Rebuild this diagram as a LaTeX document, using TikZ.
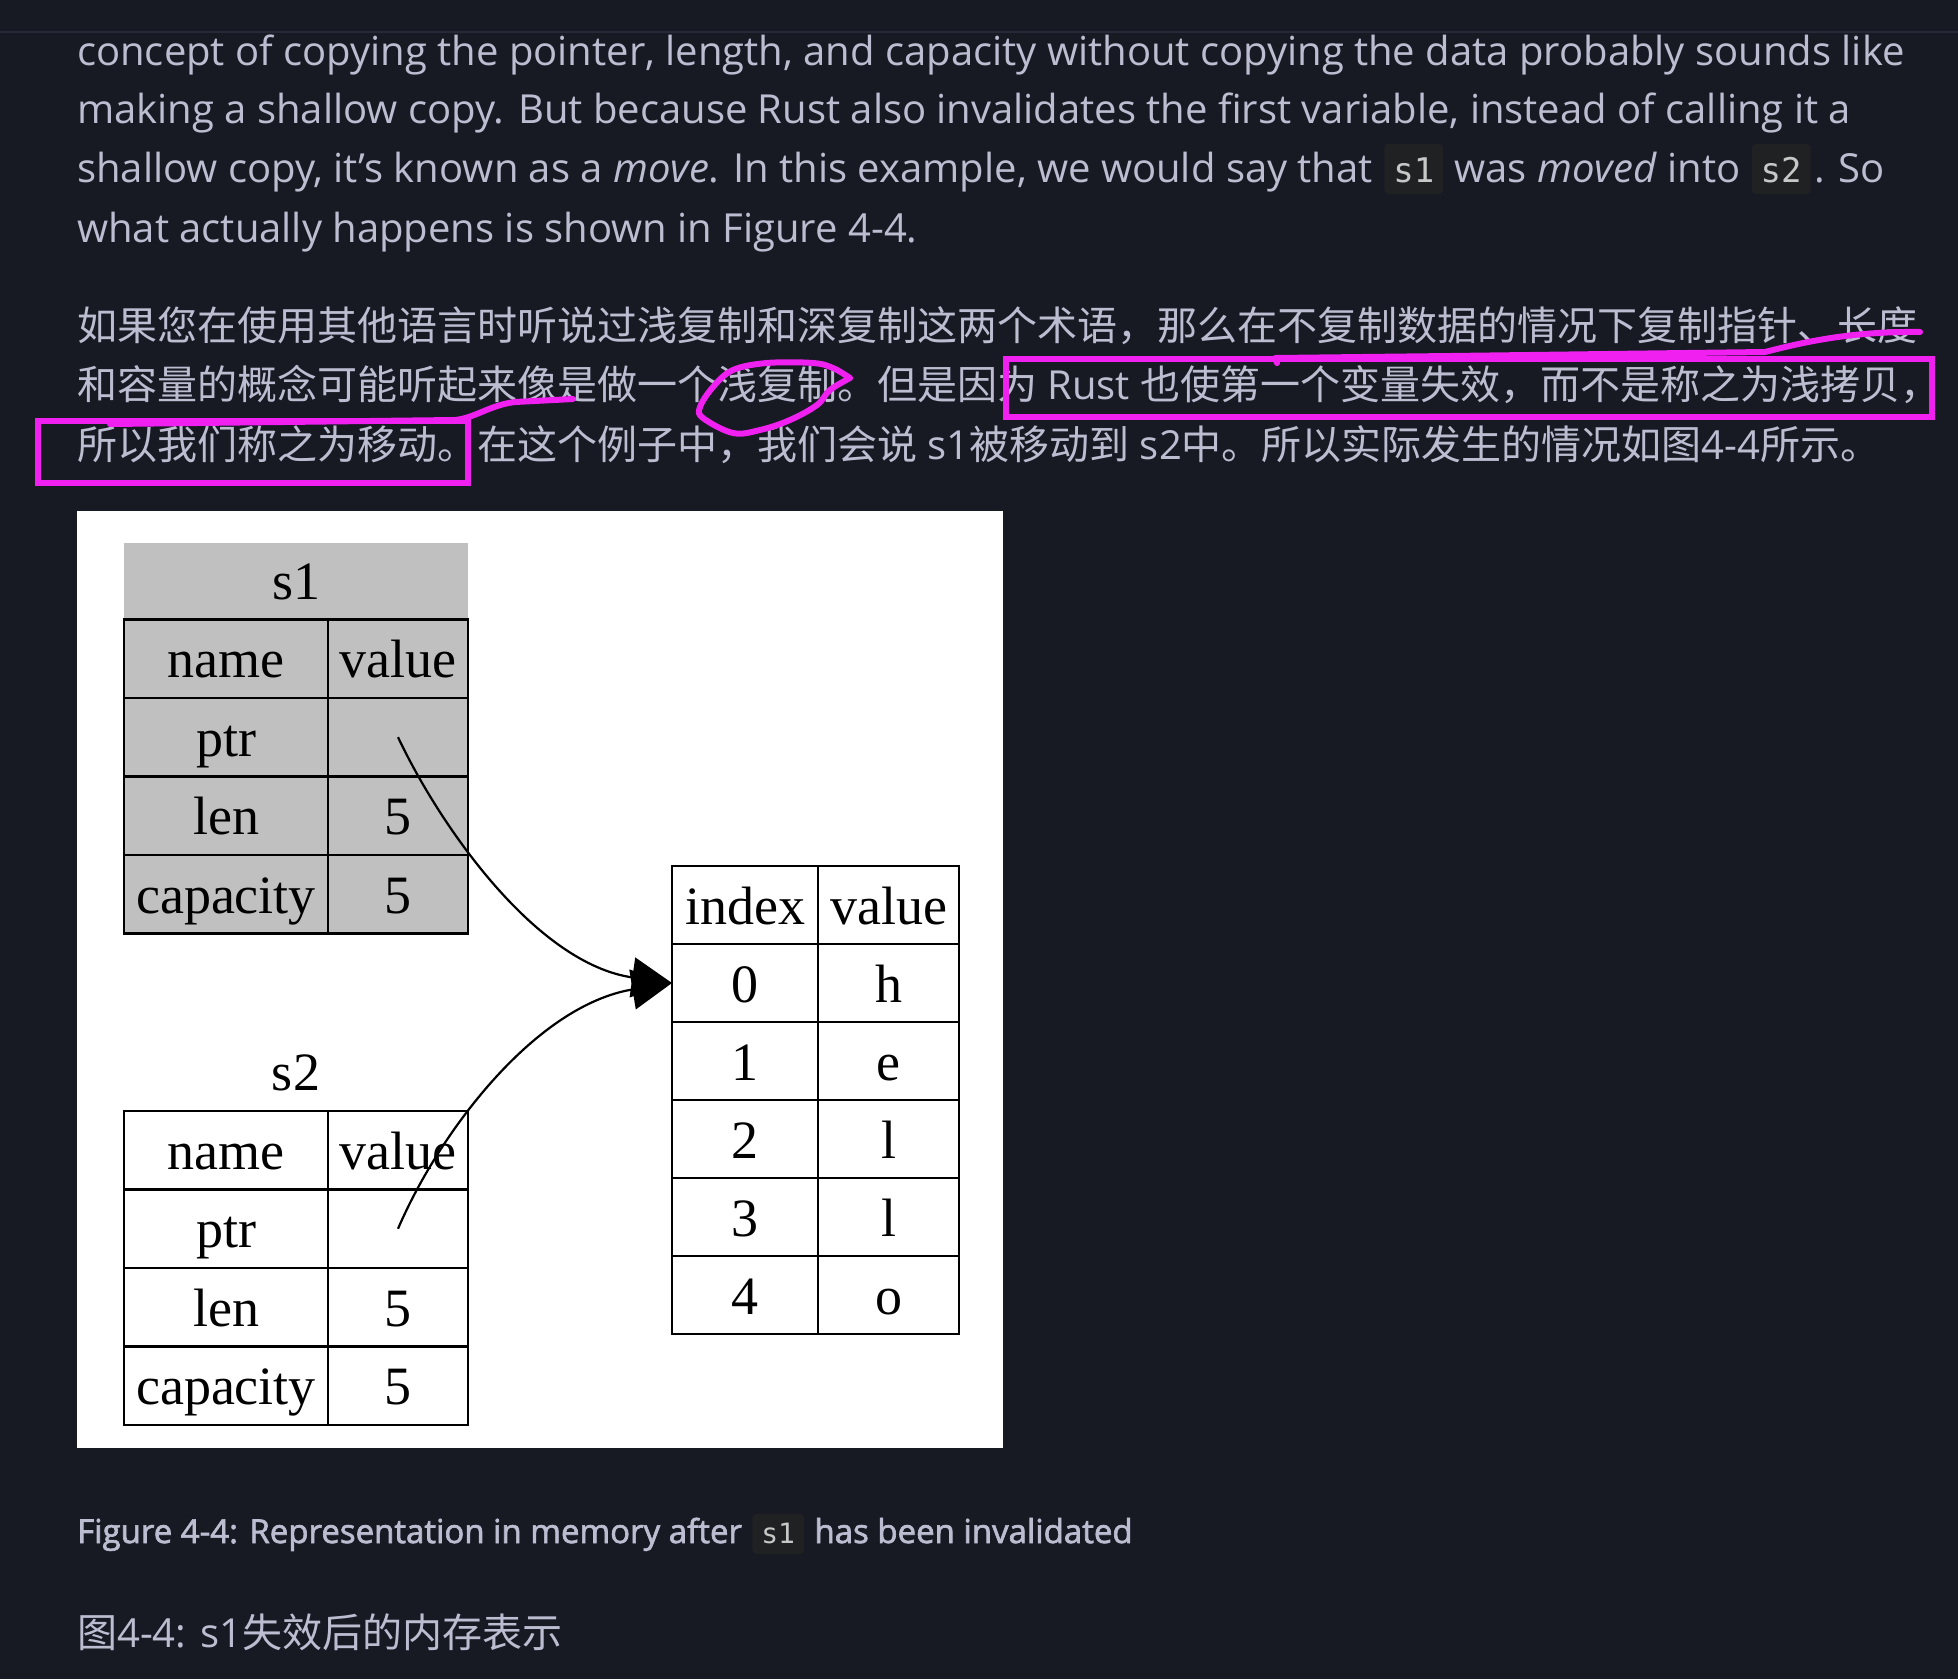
\documentclass[tikz,border=0pt]{standalone}
\usepackage{fontspec}
\usepackage{xcolor}
\usetikzlibrary{arrows.meta,positioning}
\setmainfont{Open Sans}
\newfontfamily\cjk{Noto Sans CJK SC}
\newfontfamily\codefont{DejaVu Sans Mono}
\newfontfamily\graphfont{Liberation Serif}
\newfontfamily\capfont{Open Sans}[FakeBold=2]
\definecolor{pagebg}{HTML}{171923}
\definecolor{rulegray}{HTML}{262937}
\definecolor{fg}{HTML}{BCBDD0}
\definecolor{codebg}{HTML}{1F2123}
\definecolor{codefg}{HTML}{C5C8C6}
\definecolor{pen}{HTML}{F020F0}
\definecolor{graycell}{HTML}{C0C0C0}
\tikzset{
  bodytext/.style={anchor=base west,inner sep=0pt,text=fg,font=\fontsize{40}{58}\selectfont},
  captext/.style={anchor=base west,inner sep=0pt,text=fg,font=\capfont\fontsize{33}{38}\selectfont},
  codechip/.style={
    anchor=base west,fill=codebg,rounded corners=4pt,text=codefg,
    inner xsep=9pt,inner ysep=0pt,text height=38pt,text depth=12pt,
    font=\codefont\fontsize{34}{34}\selectfont
  },
  capchip/.style={codechip,text height=29pt,text depth=11pt,font=\codefont\fontsize{28}{28}\selectfont},
  cell/.style={
    draw=black,line width=2.2pt,inner sep=0pt,outer sep=0pt,
    minimum height=78.5pt,text height=38pt,text depth=0pt,
    font=\graphfont\fontsize{54}{54}\selectfont
  },
  namecell/.style={cell,minimum width=204pt},
  valcell/.style={cell,minimum width=140pt},
  idxname/.style={cell,minimum height=78pt,minimum width=146pt},
  idxval/.style={cell,minimum height=78pt,minimum width=141pt},
  graphlabel/.style={inner sep=0pt,font=\graphfont\fontsize{54}{54}\selectfont},
  ptrarrow/.style={-{Triangle[length=40pt,width=40pt]},draw=black,line width=2.2pt},
  scribble/.style={draw=pen,line width=6pt,line cap=round,line join=round}
}
\begin{document}
\begin{tikzpicture}[x=1pt,y=-1pt]
\useasboundingbox (0,0) rectangle (1958,1679);
\fill[pagebg] (0,0) rectangle (1958,1679);
\draw[rulegray,line width=2pt] (0,32) -- (1958,32);

% english paragraph
\node[bodytext] (t1) at (77,65) {concept of copying the pointer, length, and capacity without copying the data probably sounds like};
\node[bodytext] (t2) at (77,123) {making a shallow copy. But because Rust also invalidates the first variable, instead of calling it a};
\node[bodytext] (t3a) at (77,182) {shallow copy, it’s known as a \emph{move}. In this example, we would say that};
\node[codechip] (c1) at ([xshift=11]t3a.base east) {s1};
\node[bodytext] (t3b) at ([xshift=11]c1.base east) {was \emph{moved} into};
\node[codechip] (c2) at ([xshift=11]t3b.base east) {s2};
\node[bodytext] (t3c) at ([xshift=3]c2.base east) {. So};
\node[bodytext] (t4) at (77,242) {what actually happens is shown in Figure 4-4.};

% chinese paragraph
\node[bodytext] (z1) at (77,340) {\cjk 如果您在使用其他语言时听说过浅复制和深复制这两个术语，那么在不复制数据的情况下复制指针、长度};
\node[bodytext] (z2) at (77,399) {{\cjk 和容量的概念可能听起来像是做一个浅复制。但是因为} Rust {\cjk 也使第一个变量失效，而不是称之为浅拷贝，}};
\node[bodytext] (z3) at (77,459) {{\cjk 所以我们称之为移动。在这个例子中，我们会说} s1{\cjk 被移动到} s2{\cjk 中。所以实际发生的情况如图}4-4{\cjk 所示。}};

% figure
\fill[white] (77,511) rectangle (1003,1448);

\node[graphlabel,fill=graycell,minimum width=344pt,minimum height=76pt,text height=38pt,anchor=north west] (s1h) at (124,543) {s1};
\node[namecell,fill=graycell,anchor=north west] (s1n) at (s1h.south west) {name};
\node[valcell,fill=graycell,right=0pt of s1n] (s1nv) {value};
\node[namecell,fill=graycell,below=0pt of s1n] (s1p) {ptr};
\node[valcell,fill=graycell,right=0pt of s1p] (s1pv) {};
\node[namecell,fill=graycell,below=0pt of s1p] (s1l) {len};
\node[valcell,fill=graycell,right=0pt of s1l] (s1lv) {5};
\node[namecell,fill=graycell,below=0pt of s1l] (s1c) {capacity};
\node[valcell,fill=graycell,right=0pt of s1c] (s1cv) {5};

\node[graphlabel,anchor=base] (s2h) at (296,1090) {s2};
\node[namecell,anchor=north west] (s2n) at (124,1111) {name};
\node[valcell,right=0pt of s2n] (s2nv) {value};
\node[namecell,below=0pt of s2n] (s2p) {ptr};
\node[valcell,right=0pt of s2p] (s2pv) {};
\node[namecell,below=0pt of s2p] (s2l) {len};
\node[valcell,right=0pt of s2l] (s2lv) {5};
\node[namecell,below=0pt of s2l] (s2c) {capacity};
\node[valcell,right=0pt of s2c] (s2cv) {5};

\node[idxname,anchor=north west] (ixh) at (672,866) {index};
\node[idxval,right=0pt of ixh] (ivh) {value};
\foreach \i/\ch [remember=\i as \prev (initially h)] in {0/h,1/e,2/l,3/l,4/o}{
  \node[idxname,below=0pt of ix\prev] (ix\i) {\i};
  \node[idxval,right=0pt of ix\i] (iv\i) {\ch};
}

\draw[ptrarrow] (s1pv.center) .. controls +(43,91) and +(-135,-19) .. (ix0.west);
\draw[ptrarrow] (s2pv.center) .. controls +(43,-100) and +(-135,22) .. (ix0.west);

% captions
\node[captext] (cap1) at (77,1543) {Figure 4-4: Representation in memory after};
\node[capchip] (cc1) at ([xshift=10]cap1.base east) {s1};
\node[captext] (cap2) at ([xshift=10]cc1.base east) {has been invalidated};
\node[bodytext] (cap3) at (77,1647) {{\cjk 图}4-4: s1{\cjk 失效后的内存表示}};

% pen marks
\draw[scribble,line join=miter] (1006,359) rectangle (1932,417);
\draw[scribble,line join=miter] (38,421) rectangle (468,483);
\draw[scribble] (1920,332) .. controls (1850,331) and (1800,343) .. (1765,352) -- (1450,356) -- (1275,358) -- (1277,363);
\draw[scribble] (573,399) -- (515,402) .. controls (490,405) and (475,418) .. (455,420) -- (110,424);
\draw[scribble] plot[smooth,tension=0.6] coordinates {(850,378) (833,368) (813,363) (767,363) (733,370) (713,387) (700,407) (703,418) (733,433) (760,430) (790,420) (817,405) (830,390) (850,378)};
\end{tikzpicture}
\end{document}
